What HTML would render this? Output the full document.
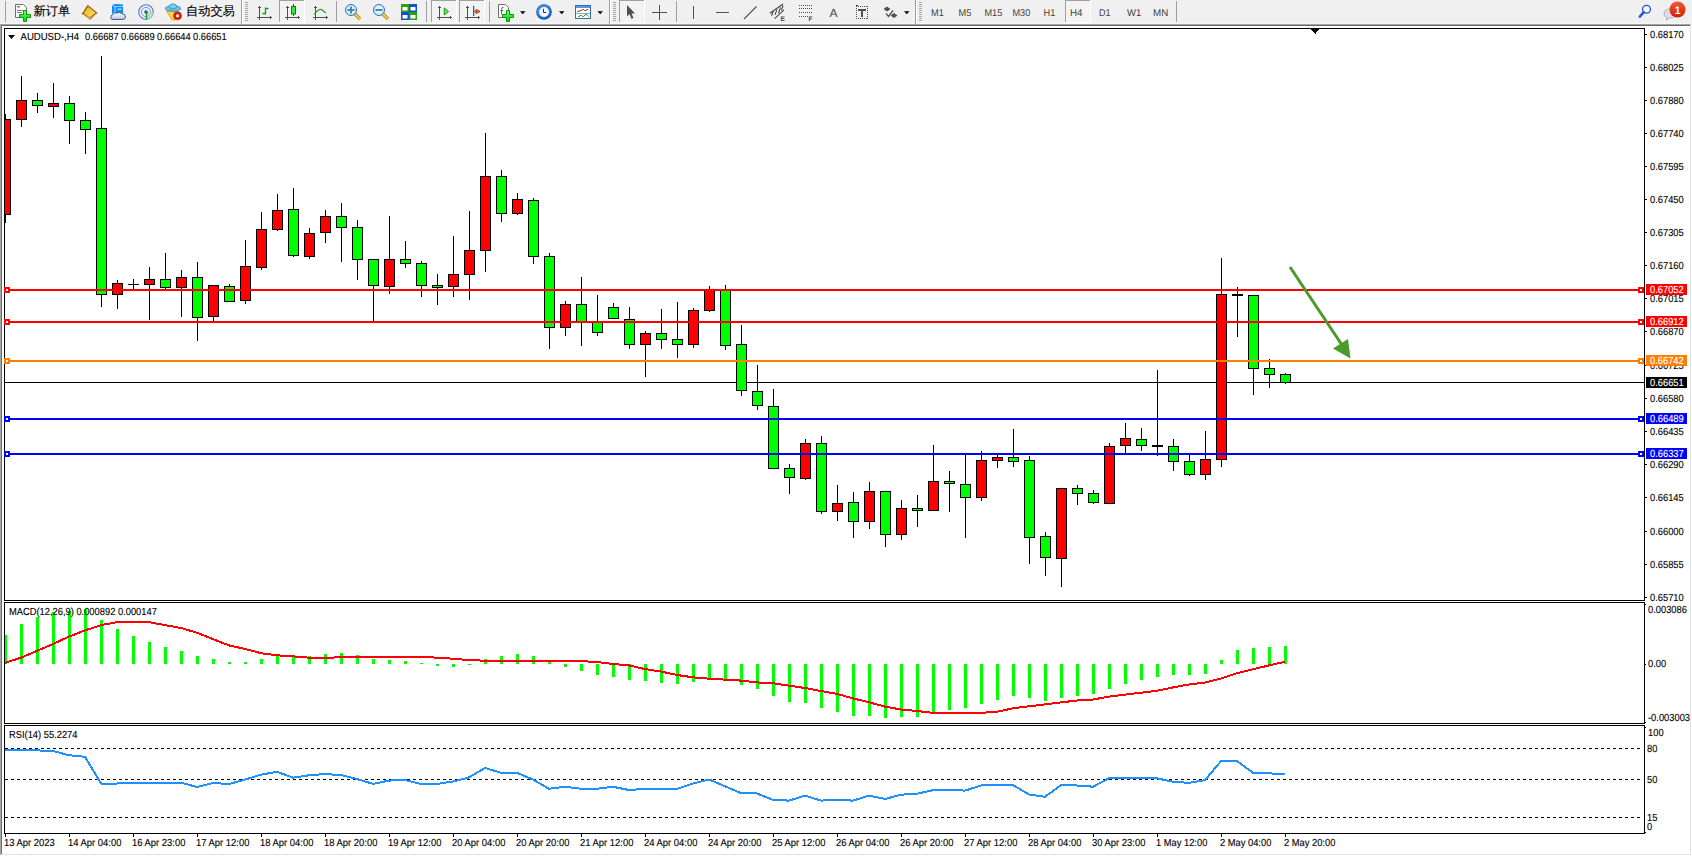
<!DOCTYPE html><html><head><meta charset="utf-8"><title>AUDUSD-,H4</title><style>
html,body{margin:0;padding:0;width:1692px;height:856px;overflow:hidden;background:#fff;}
svg{position:absolute;left:0;top:0;display:block;}
text{font-family:"Liberation Sans",sans-serif;text-rendering:geometricPrecision;}
</style></head><body>
<svg width="1692" height="856" viewBox="0 0 1692 856">
<rect x="0" y="0" width="1692" height="24" fill="#f0f0f0"/>
<rect x="0" y="24" width="1690" height="1" fill="#a3a3a3"/>
<rect x="1" y="25" width="1689" height="1" fill="#6b6b6b"/>
<rect x="1690" y="24" width="1" height="1" fill="#c8c8c8"/>
<rect x="0" y="24" width="1" height="831" fill="#a8a8a8"/>
<rect x="1" y="25" width="1" height="829" fill="#6b6b6b"/>
<rect x="1690" y="25" width="1" height="830" fill="#e2e2e2"/>
<rect x="2" y="854" width="1689" height="1" fill="#e2e2e2"/>
<defs><clipPath id="cm"><rect x="5" y="29" width="1639" height="571"/></clipPath><clipPath id="cd"><rect x="5" y="603" width="1639" height="120"/></clipPath><clipPath id="cr"><rect x="5" y="726" width="1639" height="107"/></clipPath></defs>
<g shape-rendering="crispEdges">
<rect x="4" y="28" width="1641" height="1" fill="#000"/>
<rect x="4" y="600" width="1641" height="1" fill="#000"/>
<rect x="4" y="28" width="1" height="573" fill="#000"/>
<rect x="1644" y="28" width="1" height="573" fill="#000"/>
<rect x="4" y="602" width="1641" height="1" fill="#000"/>
<rect x="4" y="723" width="1641" height="1" fill="#000"/>
<rect x="4" y="602" width="1" height="122" fill="#000"/>
<rect x="1644" y="602" width="1" height="122" fill="#000"/>
<rect x="4" y="725" width="1641" height="1" fill="#000"/>
<rect x="4" y="833" width="1641" height="1" fill="#000"/>
<rect x="4" y="725" width="1" height="109" fill="#000"/>
<rect x="1644" y="725" width="1" height="109" fill="#000"/>
<rect x="1310" y="28" width="10" height="1" fill="#000"/>
<rect x="1311" y="29" width="8" height="1" fill="#000"/>
<rect x="1312" y="30" width="6" height="1" fill="#000"/>
<rect x="1313" y="31" width="4" height="1" fill="#000"/>
<rect x="1314" y="32" width="2" height="1" fill="#000"/>
<rect x="1315" y="33" width="1" height="1" fill="#000"/>
<g clip-path="url(#cm)">
<rect x="5" y="382" width="1639" height="1" fill="#000"/>
<rect x="5" y="114" width="1" height="109" fill="#000"/>
<rect x="0" y="119" width="11" height="96" fill="#000"/>
<rect x="1" y="120" width="9" height="94" fill="#ff0000"/>
<rect x="21" y="76" width="1" height="51" fill="#000"/>
<rect x="16" y="100" width="11" height="20" fill="#000"/>
<rect x="17" y="101" width="9" height="18" fill="#ff0000"/>
<rect x="37" y="93" width="1" height="20" fill="#000"/>
<rect x="32" y="100" width="11" height="6" fill="#000"/>
<rect x="33" y="101" width="9" height="4" fill="#00ff00"/>
<rect x="53" y="83" width="1" height="35" fill="#000"/>
<rect x="48" y="103" width="11" height="4" fill="#000"/>
<rect x="49" y="104" width="9" height="2" fill="#ff0000"/>
<rect x="69" y="96" width="1" height="48" fill="#000"/>
<rect x="64" y="103" width="11" height="18" fill="#000"/>
<rect x="65" y="104" width="9" height="16" fill="#00ff00"/>
<rect x="85" y="112" width="1" height="42" fill="#000"/>
<rect x="80" y="120" width="11" height="10" fill="#000"/>
<rect x="81" y="121" width="9" height="8" fill="#00ff00"/>
<rect x="101" y="56" width="1" height="251" fill="#000"/>
<rect x="96" y="128" width="11" height="167" fill="#000"/>
<rect x="97" y="129" width="9" height="165" fill="#00ff00"/>
<rect x="117" y="280" width="1" height="29" fill="#000"/>
<rect x="112" y="283" width="11" height="12" fill="#000"/>
<rect x="113" y="284" width="9" height="10" fill="#ff0000"/>
<rect x="133" y="279" width="1" height="11" fill="#000"/>
<rect x="128" y="284" width="11" height="1" fill="#000"/>
<rect x="149" y="267" width="1" height="53" fill="#000"/>
<rect x="144" y="279" width="11" height="6" fill="#000"/>
<rect x="145" y="280" width="9" height="4" fill="#ff0000"/>
<rect x="165" y="253" width="1" height="36" fill="#000"/>
<rect x="160" y="279" width="11" height="9" fill="#000"/>
<rect x="161" y="280" width="9" height="7" fill="#00ff00"/>
<rect x="181" y="270" width="1" height="47" fill="#000"/>
<rect x="176" y="277" width="11" height="11" fill="#000"/>
<rect x="177" y="278" width="9" height="9" fill="#ff0000"/>
<rect x="197" y="262" width="1" height="79" fill="#000"/>
<rect x="192" y="277" width="11" height="41" fill="#000"/>
<rect x="193" y="278" width="9" height="39" fill="#00ff00"/>
<rect x="213" y="285" width="1" height="36" fill="#000"/>
<rect x="208" y="285" width="11" height="32" fill="#000"/>
<rect x="209" y="286" width="9" height="30" fill="#ff0000"/>
<rect x="229" y="284" width="1" height="18" fill="#000"/>
<rect x="224" y="286" width="11" height="16" fill="#000"/>
<rect x="225" y="287" width="9" height="14" fill="#00ff00"/>
<rect x="245" y="240" width="1" height="64" fill="#000"/>
<rect x="240" y="266" width="11" height="35" fill="#000"/>
<rect x="241" y="267" width="9" height="33" fill="#ff0000"/>
<rect x="261" y="212" width="1" height="58" fill="#000"/>
<rect x="256" y="229" width="11" height="39" fill="#000"/>
<rect x="257" y="230" width="9" height="37" fill="#ff0000"/>
<rect x="277" y="194" width="1" height="37" fill="#000"/>
<rect x="272" y="210" width="11" height="20" fill="#000"/>
<rect x="273" y="211" width="9" height="18" fill="#ff0000"/>
<rect x="293" y="188" width="1" height="69" fill="#000"/>
<rect x="288" y="209" width="11" height="47" fill="#000"/>
<rect x="289" y="210" width="9" height="45" fill="#00ff00"/>
<rect x="309" y="228" width="1" height="31" fill="#000"/>
<rect x="304" y="233" width="11" height="24" fill="#000"/>
<rect x="305" y="234" width="9" height="22" fill="#ff0000"/>
<rect x="325" y="210" width="1" height="33" fill="#000"/>
<rect x="320" y="216" width="11" height="17" fill="#000"/>
<rect x="321" y="217" width="9" height="15" fill="#ff0000"/>
<rect x="341" y="203" width="1" height="59" fill="#000"/>
<rect x="336" y="216" width="11" height="12" fill="#000"/>
<rect x="337" y="217" width="9" height="10" fill="#00ff00"/>
<rect x="357" y="220" width="1" height="60" fill="#000"/>
<rect x="352" y="227" width="11" height="33" fill="#000"/>
<rect x="353" y="228" width="9" height="31" fill="#00ff00"/>
<rect x="373" y="259" width="1" height="62" fill="#000"/>
<rect x="368" y="259" width="11" height="27" fill="#000"/>
<rect x="369" y="260" width="9" height="25" fill="#00ff00"/>
<rect x="389" y="216" width="1" height="78" fill="#000"/>
<rect x="384" y="259" width="11" height="28" fill="#000"/>
<rect x="385" y="260" width="9" height="26" fill="#ff0000"/>
<rect x="405" y="241" width="1" height="27" fill="#000"/>
<rect x="400" y="259" width="11" height="5" fill="#000"/>
<rect x="401" y="260" width="9" height="3" fill="#00ff00"/>
<rect x="421" y="261" width="1" height="36" fill="#000"/>
<rect x="416" y="263" width="11" height="23" fill="#000"/>
<rect x="417" y="264" width="9" height="21" fill="#00ff00"/>
<rect x="437" y="274" width="1" height="31" fill="#000"/>
<rect x="432" y="285" width="11" height="3" fill="#000"/>
<rect x="433" y="286" width="9" height="1" fill="#00ff00"/>
<rect x="453" y="236" width="1" height="61" fill="#000"/>
<rect x="448" y="274" width="11" height="13" fill="#000"/>
<rect x="449" y="275" width="9" height="11" fill="#ff0000"/>
<rect x="469" y="211" width="1" height="89" fill="#000"/>
<rect x="464" y="250" width="11" height="25" fill="#000"/>
<rect x="465" y="251" width="9" height="23" fill="#ff0000"/>
<rect x="485" y="133" width="1" height="139" fill="#000"/>
<rect x="480" y="176" width="11" height="75" fill="#000"/>
<rect x="481" y="177" width="9" height="73" fill="#ff0000"/>
<rect x="501" y="170" width="1" height="52" fill="#000"/>
<rect x="496" y="176" width="11" height="38" fill="#000"/>
<rect x="497" y="177" width="9" height="36" fill="#00ff00"/>
<rect x="517" y="193" width="1" height="22" fill="#000"/>
<rect x="512" y="199" width="11" height="15" fill="#000"/>
<rect x="513" y="200" width="9" height="13" fill="#ff0000"/>
<rect x="533" y="198" width="1" height="66" fill="#000"/>
<rect x="528" y="200" width="11" height="57" fill="#000"/>
<rect x="529" y="201" width="9" height="55" fill="#00ff00"/>
<rect x="549" y="253" width="1" height="96" fill="#000"/>
<rect x="544" y="256" width="11" height="72" fill="#000"/>
<rect x="545" y="257" width="9" height="70" fill="#00ff00"/>
<rect x="565" y="301" width="1" height="35" fill="#000"/>
<rect x="560" y="304" width="11" height="24" fill="#000"/>
<rect x="561" y="305" width="9" height="22" fill="#ff0000"/>
<rect x="581" y="277" width="1" height="69" fill="#000"/>
<rect x="576" y="304" width="11" height="18" fill="#000"/>
<rect x="577" y="305" width="9" height="16" fill="#00ff00"/>
<rect x="597" y="295" width="1" height="41" fill="#000"/>
<rect x="592" y="322" width="11" height="11" fill="#000"/>
<rect x="593" y="323" width="9" height="9" fill="#00ff00"/>
<rect x="613" y="303" width="1" height="16" fill="#000"/>
<rect x="608" y="307" width="11" height="12" fill="#000"/>
<rect x="609" y="308" width="9" height="10" fill="#00ff00"/>
<rect x="629" y="307" width="1" height="42" fill="#000"/>
<rect x="624" y="319" width="11" height="26" fill="#000"/>
<rect x="625" y="320" width="9" height="24" fill="#00ff00"/>
<rect x="645" y="331" width="1" height="46" fill="#000"/>
<rect x="640" y="333" width="11" height="12" fill="#000"/>
<rect x="641" y="334" width="9" height="10" fill="#ff0000"/>
<rect x="661" y="309" width="1" height="40" fill="#000"/>
<rect x="656" y="333" width="11" height="7" fill="#000"/>
<rect x="657" y="334" width="9" height="5" fill="#00ff00"/>
<rect x="677" y="302" width="1" height="56" fill="#000"/>
<rect x="672" y="339" width="11" height="6" fill="#000"/>
<rect x="673" y="340" width="9" height="4" fill="#00ff00"/>
<rect x="693" y="308" width="1" height="40" fill="#000"/>
<rect x="688" y="310" width="11" height="35" fill="#000"/>
<rect x="689" y="311" width="9" height="33" fill="#ff0000"/>
<rect x="709" y="286" width="1" height="26" fill="#000"/>
<rect x="704" y="290" width="11" height="21" fill="#000"/>
<rect x="705" y="291" width="9" height="19" fill="#ff0000"/>
<rect x="725" y="285" width="1" height="65" fill="#000"/>
<rect x="720" y="290" width="11" height="56" fill="#000"/>
<rect x="721" y="291" width="9" height="54" fill="#00ff00"/>
<rect x="741" y="325" width="1" height="71" fill="#000"/>
<rect x="736" y="344" width="11" height="47" fill="#000"/>
<rect x="737" y="345" width="9" height="45" fill="#00ff00"/>
<rect x="757" y="365" width="1" height="45" fill="#000"/>
<rect x="752" y="391" width="11" height="15" fill="#000"/>
<rect x="753" y="392" width="9" height="13" fill="#00ff00"/>
<rect x="773" y="389" width="1" height="80" fill="#000"/>
<rect x="768" y="406" width="11" height="63" fill="#000"/>
<rect x="769" y="407" width="9" height="61" fill="#00ff00"/>
<rect x="789" y="464" width="1" height="30" fill="#000"/>
<rect x="784" y="468" width="11" height="10" fill="#000"/>
<rect x="785" y="469" width="9" height="8" fill="#00ff00"/>
<rect x="805" y="439" width="1" height="41" fill="#000"/>
<rect x="800" y="443" width="11" height="36" fill="#000"/>
<rect x="801" y="444" width="9" height="34" fill="#ff0000"/>
<rect x="821" y="436" width="1" height="78" fill="#000"/>
<rect x="816" y="443" width="11" height="69" fill="#000"/>
<rect x="817" y="444" width="9" height="67" fill="#00ff00"/>
<rect x="837" y="485" width="1" height="36" fill="#000"/>
<rect x="832" y="503" width="11" height="9" fill="#000"/>
<rect x="833" y="504" width="9" height="7" fill="#ff0000"/>
<rect x="853" y="492" width="1" height="46" fill="#000"/>
<rect x="848" y="502" width="11" height="20" fill="#000"/>
<rect x="849" y="503" width="9" height="18" fill="#00ff00"/>
<rect x="869" y="482" width="1" height="47" fill="#000"/>
<rect x="864" y="491" width="11" height="31" fill="#000"/>
<rect x="865" y="492" width="9" height="29" fill="#ff0000"/>
<rect x="885" y="491" width="1" height="56" fill="#000"/>
<rect x="880" y="491" width="11" height="44" fill="#000"/>
<rect x="881" y="492" width="9" height="42" fill="#00ff00"/>
<rect x="901" y="500" width="1" height="40" fill="#000"/>
<rect x="896" y="508" width="11" height="27" fill="#000"/>
<rect x="897" y="509" width="9" height="25" fill="#ff0000"/>
<rect x="917" y="495" width="1" height="32" fill="#000"/>
<rect x="912" y="508" width="11" height="3" fill="#000"/>
<rect x="913" y="509" width="9" height="1" fill="#00ff00"/>
<rect x="933" y="445" width="1" height="66" fill="#000"/>
<rect x="928" y="481" width="11" height="30" fill="#000"/>
<rect x="929" y="482" width="9" height="28" fill="#ff0000"/>
<rect x="949" y="471" width="1" height="41" fill="#000"/>
<rect x="944" y="481" width="11" height="3" fill="#000"/>
<rect x="945" y="482" width="9" height="1" fill="#00ff00"/>
<rect x="965" y="455" width="1" height="83" fill="#000"/>
<rect x="960" y="484" width="11" height="14" fill="#000"/>
<rect x="961" y="485" width="9" height="12" fill="#00ff00"/>
<rect x="981" y="451" width="1" height="50" fill="#000"/>
<rect x="976" y="460" width="11" height="38" fill="#000"/>
<rect x="977" y="461" width="9" height="36" fill="#ff0000"/>
<rect x="997" y="455" width="1" height="13" fill="#000"/>
<rect x="992" y="457" width="11" height="4" fill="#000"/>
<rect x="993" y="458" width="9" height="2" fill="#ff0000"/>
<rect x="1013" y="429" width="1" height="38" fill="#000"/>
<rect x="1008" y="457" width="11" height="5" fill="#000"/>
<rect x="1009" y="458" width="9" height="3" fill="#00ff00"/>
<rect x="1029" y="456" width="1" height="108" fill="#000"/>
<rect x="1024" y="460" width="11" height="78" fill="#000"/>
<rect x="1025" y="461" width="9" height="76" fill="#00ff00"/>
<rect x="1045" y="532" width="1" height="44" fill="#000"/>
<rect x="1040" y="536" width="11" height="22" fill="#000"/>
<rect x="1041" y="537" width="9" height="20" fill="#00ff00"/>
<rect x="1061" y="488" width="1" height="99" fill="#000"/>
<rect x="1056" y="488" width="11" height="71" fill="#000"/>
<rect x="1057" y="489" width="9" height="69" fill="#ff0000"/>
<rect x="1077" y="485" width="1" height="20" fill="#000"/>
<rect x="1072" y="488" width="11" height="6" fill="#000"/>
<rect x="1073" y="489" width="9" height="4" fill="#00ff00"/>
<rect x="1093" y="490" width="1" height="14" fill="#000"/>
<rect x="1088" y="493" width="11" height="10" fill="#000"/>
<rect x="1089" y="494" width="9" height="8" fill="#00ff00"/>
<rect x="1109" y="443" width="1" height="61" fill="#000"/>
<rect x="1104" y="446" width="11" height="58" fill="#000"/>
<rect x="1105" y="447" width="9" height="56" fill="#ff0000"/>
<rect x="1125" y="423" width="1" height="30" fill="#000"/>
<rect x="1120" y="438" width="11" height="8" fill="#000"/>
<rect x="1121" y="439" width="9" height="6" fill="#ff0000"/>
<rect x="1141" y="428" width="1" height="23" fill="#000"/>
<rect x="1136" y="439" width="11" height="7" fill="#000"/>
<rect x="1137" y="440" width="9" height="5" fill="#00ff00"/>
<rect x="1157" y="370" width="1" height="86" fill="#000"/>
<rect x="1152" y="445" width="11" height="2" fill="#000"/>
<rect x="1173" y="439" width="1" height="32" fill="#000"/>
<rect x="1168" y="446" width="11" height="16" fill="#000"/>
<rect x="1169" y="447" width="9" height="14" fill="#00ff00"/>
<rect x="1189" y="454" width="1" height="22" fill="#000"/>
<rect x="1184" y="461" width="11" height="14" fill="#000"/>
<rect x="1185" y="462" width="9" height="12" fill="#00ff00"/>
<rect x="1205" y="431" width="1" height="49" fill="#000"/>
<rect x="1200" y="459" width="11" height="16" fill="#000"/>
<rect x="1201" y="460" width="9" height="14" fill="#ff0000"/>
<rect x="1221" y="258" width="1" height="209" fill="#000"/>
<rect x="1216" y="294" width="11" height="166" fill="#000"/>
<rect x="1217" y="295" width="9" height="164" fill="#ff0000"/>
<rect x="1237" y="287" width="1" height="50" fill="#000"/>
<rect x="1232" y="294" width="11" height="2" fill="#000"/>
<rect x="1253" y="295" width="1" height="100" fill="#000"/>
<rect x="1248" y="295" width="11" height="74" fill="#000"/>
<rect x="1249" y="296" width="9" height="72" fill="#00ff00"/>
<rect x="1269" y="359" width="1" height="29" fill="#000"/>
<rect x="1264" y="368" width="11" height="7" fill="#000"/>
<rect x="1265" y="369" width="9" height="5" fill="#00ff00"/>
<rect x="1285" y="373" width="1" height="11" fill="#000"/>
<rect x="1280" y="374" width="11" height="9" fill="#000"/>
<rect x="1281" y="375" width="9" height="7" fill="#00ff00"/>
<rect x="5" y="289" width="1639" height="2" fill="#ff0000"/>
<rect x="4" y="287" width="6" height="6" fill="#ff0000"/>
<rect x="6" y="289" width="2" height="2" fill="#fff"/>
<rect x="1638" y="287" width="6" height="6" fill="#ff0000"/>
<rect x="1640" y="289" width="2" height="2" fill="#fff"/>
<rect x="5" y="321" width="1639" height="2" fill="#ff0000"/>
<rect x="4" y="319" width="6" height="6" fill="#ff0000"/>
<rect x="6" y="321" width="2" height="2" fill="#fff"/>
<rect x="1638" y="319" width="6" height="6" fill="#ff0000"/>
<rect x="1640" y="321" width="2" height="2" fill="#fff"/>
<rect x="5" y="360" width="1639" height="2" fill="#ff8000"/>
<rect x="4" y="358" width="6" height="6" fill="#ff8000"/>
<rect x="6" y="360" width="2" height="2" fill="#fff"/>
<rect x="1638" y="358" width="6" height="6" fill="#ff8000"/>
<rect x="1640" y="360" width="2" height="2" fill="#fff"/>
<rect x="5" y="418" width="1639" height="2" fill="#0000ff"/>
<rect x="4" y="416" width="6" height="6" fill="#0000ff"/>
<rect x="6" y="418" width="2" height="2" fill="#fff"/>
<rect x="1638" y="416" width="6" height="6" fill="#0000ff"/>
<rect x="1640" y="418" width="2" height="2" fill="#fff"/>
<rect x="5" y="453" width="1639" height="2" fill="#0000ff"/>
<rect x="4" y="451" width="6" height="6" fill="#0000ff"/>
<rect x="6" y="453" width="2" height="2" fill="#fff"/>
<rect x="1638" y="451" width="6" height="6" fill="#0000ff"/>
<rect x="1640" y="453" width="2" height="2" fill="#fff"/>
</g>
<rect x="4" y="287" width="6" height="6" fill="#ff0000"/>
<rect x="6" y="289" width="2" height="2" fill="#fff"/>
<rect x="1638" y="287" width="6" height="6" fill="#ff0000"/>
<rect x="1640" y="289" width="2" height="2" fill="#fff"/>
<rect x="4" y="319" width="6" height="6" fill="#ff0000"/>
<rect x="6" y="321" width="2" height="2" fill="#fff"/>
<rect x="1638" y="319" width="6" height="6" fill="#ff0000"/>
<rect x="1640" y="321" width="2" height="2" fill="#fff"/>
<rect x="4" y="358" width="6" height="6" fill="#ff8000"/>
<rect x="6" y="360" width="2" height="2" fill="#fff"/>
<rect x="1638" y="358" width="6" height="6" fill="#ff8000"/>
<rect x="1640" y="360" width="2" height="2" fill="#fff"/>
<rect x="4" y="416" width="6" height="6" fill="#0000ff"/>
<rect x="6" y="418" width="2" height="2" fill="#fff"/>
<rect x="1638" y="416" width="6" height="6" fill="#0000ff"/>
<rect x="1640" y="418" width="2" height="2" fill="#fff"/>
<rect x="4" y="451" width="6" height="6" fill="#0000ff"/>
<rect x="6" y="453" width="2" height="2" fill="#fff"/>
<rect x="1638" y="451" width="6" height="6" fill="#0000ff"/>
<rect x="1640" y="453" width="2" height="2" fill="#fff"/>
<rect x="1645" y="34" width="2" height="1" fill="#000"/>
<rect x="1645" y="67" width="2" height="1" fill="#000"/>
<rect x="1645" y="100" width="2" height="1" fill="#000"/>
<rect x="1645" y="133" width="2" height="1" fill="#000"/>
<rect x="1645" y="166" width="2" height="1" fill="#000"/>
<rect x="1645" y="199" width="2" height="1" fill="#000"/>
<rect x="1645" y="232" width="2" height="1" fill="#000"/>
<rect x="1645" y="265" width="2" height="1" fill="#000"/>
<rect x="1645" y="298" width="2" height="1" fill="#000"/>
<rect x="1645" y="331" width="2" height="1" fill="#000"/>
<rect x="1645" y="365" width="2" height="1" fill="#000"/>
<rect x="1645" y="398" width="2" height="1" fill="#000"/>
<rect x="1645" y="431" width="2" height="1" fill="#000"/>
<rect x="1645" y="464" width="2" height="1" fill="#000"/>
<rect x="1645" y="497" width="2" height="1" fill="#000"/>
<rect x="1645" y="531" width="2" height="1" fill="#000"/>
<rect x="1645" y="564" width="2" height="1" fill="#000"/>
<rect x="1645" y="597" width="2" height="1" fill="#000"/>
<rect x="1645" y="604" width="1" height="1" fill="#000"/>
<rect x="1645" y="664" width="1" height="1" fill="#000"/>
<rect x="1645" y="722" width="1" height="1" fill="#000"/>
<rect x="1645" y="727" width="1" height="1" fill="#000"/>
<rect x="1645" y="832" width="1" height="1" fill="#000"/>
<rect x="5" y="834" width="1" height="3" fill="#000"/>
<rect x="69" y="834" width="1" height="3" fill="#000"/>
<rect x="133" y="834" width="1" height="3" fill="#000"/>
<rect x="197" y="834" width="1" height="3" fill="#000"/>
<rect x="261" y="834" width="1" height="3" fill="#000"/>
<rect x="325" y="834" width="1" height="3" fill="#000"/>
<rect x="389" y="834" width="1" height="3" fill="#000"/>
<rect x="453" y="834" width="1" height="3" fill="#000"/>
<rect x="517" y="834" width="1" height="3" fill="#000"/>
<rect x="581" y="834" width="1" height="3" fill="#000"/>
<rect x="645" y="834" width="1" height="3" fill="#000"/>
<rect x="709" y="834" width="1" height="3" fill="#000"/>
<rect x="773" y="834" width="1" height="3" fill="#000"/>
<rect x="837" y="834" width="1" height="3" fill="#000"/>
<rect x="901" y="834" width="1" height="3" fill="#000"/>
<rect x="965" y="834" width="1" height="3" fill="#000"/>
<rect x="1029" y="834" width="1" height="3" fill="#000"/>
<rect x="1093" y="834" width="1" height="3" fill="#000"/>
<rect x="1157" y="834" width="1" height="3" fill="#000"/>
<rect x="1221" y="834" width="1" height="3" fill="#000"/>
<rect x="1285" y="834" width="1" height="3" fill="#000"/>
<g clip-path="url(#cd)">
<rect x="4" y="635" width="3" height="29" fill="#00ff00"/>
<rect x="20" y="624" width="3" height="40" fill="#00ff00"/>
<rect x="36" y="617" width="3" height="47" fill="#00ff00"/>
<rect x="52" y="612" width="3" height="52" fill="#00ff00"/>
<rect x="68" y="611" width="3" height="53" fill="#00ff00"/>
<rect x="84" y="609" width="3" height="55" fill="#00ff00"/>
<rect x="100" y="620" width="3" height="44" fill="#00ff00"/>
<rect x="116" y="629" width="3" height="35" fill="#00ff00"/>
<rect x="132" y="636" width="3" height="28" fill="#00ff00"/>
<rect x="148" y="642" width="3" height="22" fill="#00ff00"/>
<rect x="164" y="647" width="3" height="17" fill="#00ff00"/>
<rect x="180" y="651" width="3" height="13" fill="#00ff00"/>
<rect x="196" y="656" width="3" height="8" fill="#00ff00"/>
<rect x="212" y="659" width="3" height="5" fill="#00ff00"/>
<rect x="228" y="662" width="3" height="2" fill="#00ff00"/>
<rect x="244" y="662" width="3" height="2" fill="#00ff00"/>
<rect x="260" y="659" width="3" height="5" fill="#00ff00"/>
<rect x="276" y="656" width="3" height="8" fill="#00ff00"/>
<rect x="292" y="657" width="3" height="7" fill="#00ff00"/>
<rect x="308" y="656" width="3" height="8" fill="#00ff00"/>
<rect x="324" y="654" width="3" height="10" fill="#00ff00"/>
<rect x="340" y="653" width="3" height="11" fill="#00ff00"/>
<rect x="356" y="655" width="3" height="9" fill="#00ff00"/>
<rect x="372" y="659" width="3" height="5" fill="#00ff00"/>
<rect x="388" y="660" width="3" height="4" fill="#00ff00"/>
<rect x="404" y="661" width="3" height="3" fill="#00ff00"/>
<rect x="420" y="663" width="3" height="1" fill="#00ff00"/>
<rect x="436" y="664" width="3" height="2" fill="#00ff00"/>
<rect x="452" y="664" width="3" height="3" fill="#00ff00"/>
<rect x="468" y="664" width="3" height="1" fill="#00ff00"/>
<rect x="484" y="659" width="3" height="5" fill="#00ff00"/>
<rect x="500" y="656" width="3" height="8" fill="#00ff00"/>
<rect x="516" y="654" width="3" height="10" fill="#00ff00"/>
<rect x="532" y="656" width="3" height="8" fill="#00ff00"/>
<rect x="548" y="662" width="3" height="2" fill="#00ff00"/>
<rect x="564" y="664" width="3" height="3" fill="#00ff00"/>
<rect x="580" y="664" width="3" height="7" fill="#00ff00"/>
<rect x="596" y="664" width="3" height="11" fill="#00ff00"/>
<rect x="612" y="664" width="3" height="13" fill="#00ff00"/>
<rect x="628" y="664" width="3" height="16" fill="#00ff00"/>
<rect x="644" y="664" width="3" height="17" fill="#00ff00"/>
<rect x="660" y="664" width="3" height="19" fill="#00ff00"/>
<rect x="676" y="664" width="3" height="20" fill="#00ff00"/>
<rect x="692" y="664" width="3" height="18" fill="#00ff00"/>
<rect x="708" y="664" width="3" height="15" fill="#00ff00"/>
<rect x="724" y="664" width="3" height="16" fill="#00ff00"/>
<rect x="740" y="664" width="3" height="21" fill="#00ff00"/>
<rect x="756" y="664" width="3" height="25" fill="#00ff00"/>
<rect x="772" y="664" width="3" height="32" fill="#00ff00"/>
<rect x="788" y="664" width="3" height="38" fill="#00ff00"/>
<rect x="804" y="664" width="3" height="39" fill="#00ff00"/>
<rect x="820" y="664" width="3" height="44" fill="#00ff00"/>
<rect x="836" y="664" width="3" height="48" fill="#00ff00"/>
<rect x="852" y="664" width="3" height="52" fill="#00ff00"/>
<rect x="868" y="664" width="3" height="52" fill="#00ff00"/>
<rect x="884" y="664" width="3" height="54" fill="#00ff00"/>
<rect x="900" y="664" width="3" height="53" fill="#00ff00"/>
<rect x="916" y="664" width="3" height="53" fill="#00ff00"/>
<rect x="932" y="664" width="3" height="48" fill="#00ff00"/>
<rect x="948" y="664" width="3" height="46" fill="#00ff00"/>
<rect x="964" y="664" width="3" height="44" fill="#00ff00"/>
<rect x="980" y="664" width="3" height="40" fill="#00ff00"/>
<rect x="996" y="664" width="3" height="36" fill="#00ff00"/>
<rect x="1012" y="664" width="3" height="32" fill="#00ff00"/>
<rect x="1028" y="664" width="3" height="34" fill="#00ff00"/>
<rect x="1044" y="664" width="3" height="37" fill="#00ff00"/>
<rect x="1060" y="664" width="3" height="34" fill="#00ff00"/>
<rect x="1076" y="664" width="3" height="32" fill="#00ff00"/>
<rect x="1092" y="664" width="3" height="30" fill="#00ff00"/>
<rect x="1108" y="664" width="3" height="25" fill="#00ff00"/>
<rect x="1124" y="664" width="3" height="20" fill="#00ff00"/>
<rect x="1140" y="664" width="3" height="16" fill="#00ff00"/>
<rect x="1156" y="664" width="3" height="13" fill="#00ff00"/>
<rect x="1172" y="664" width="3" height="11" fill="#00ff00"/>
<rect x="1188" y="664" width="3" height="11" fill="#00ff00"/>
<rect x="1204" y="664" width="3" height="10" fill="#00ff00"/>
<rect x="1220" y="660" width="3" height="4" fill="#00ff00"/>
<rect x="1236" y="650" width="3" height="14" fill="#00ff00"/>
<rect x="1252" y="648" width="3" height="16" fill="#00ff00"/>
<rect x="1268" y="647" width="3" height="17" fill="#00ff00"/>
<rect x="1284" y="646" width="3" height="18" fill="#00ff00"/>
</g>
<line x1="5" y1="748.5" x2="1642" y2="748.5" stroke="#000" stroke-width="1" stroke-dasharray="3,3"/>
<line x1="5" y1="779.5" x2="1642" y2="779.5" stroke="#000" stroke-width="1" stroke-dasharray="3,3"/>
<line x1="5" y1="817.5" x2="1642" y2="817.5" stroke="#000" stroke-width="1" stroke-dasharray="3,3"/>
</g>
<g clip-path="url(#cd)"><polyline points="5,662.9 21,657.7 37,650.8 53,644 69,636.6 85,630.4 101,625.1 117,622.2 133,621.8 149,622.2 165,625.1 181,628 197,632.7 213,639.1 229,645.4 245,648.9 261,653.2 277,655.3 293,656.3 309,657.7 325,657.9 341,657.2 357,656.8 373,656.8 389,656.8 405,656.8 421,656.8 437,657.7 453,658.7 469,660.1 485,660.7 501,660.7 517,660.7 533,660.7 549,660.7 565,660.7 581,661.1 597,662 613,664 629,665.4 645,669.1 661,671.5 677,675 693,677.3 709,678.7 725,679.6 741,680.6 757,682.4 773,683.2 789,685.7 805,688 821,691 837,693.9 853,698.4 869,702.3 885,706.6 901,709.5 917,711 933,712.8 949,712.8 965,712.8 981,712.8 997,711.8 1013,708.3 1029,706.3 1045,704.4 1061,702.4 1077,700.5 1093,699.5 1109,696.6 1125,694.6 1141,692.7 1157,690.7 1173,687.4 1189,684.5 1205,682.5 1221,678.6 1237,673.2 1253,669.3 1269,665.4 1285,661.8" fill="none" stroke="#ff0000" stroke-width="2" stroke-linejoin="round" shape-rendering="crispEdges"/></g>
<g clip-path="url(#cr)"><polyline points="5,750.4 21,750.4 37,750.4 53,751 69,755.2 85,756.8 101,783.5 117,783.5 133,782.7 149,782.7 165,782.7 181,782.7 197,787 213,783 229,784 245,779.6 261,774.7 277,771.8 293,777.7 309,775.3 325,774 341,775.1 357,779 373,783.9 389,780.6 405,780 421,783.9 437,783.9 453,781.5 469,777.4 485,767.9 501,772.8 517,772.8 533,779.6 549,788.8 565,786.8 581,788.8 597,788.8 613,786.8 629,790 645,788.9 661,788.9 677,788.9 693,783.4 709,779.5 725,786.3 741,793.2 757,793.5 773,800 789,800.6 805,795.7 821,800.6 837,800 853,800.6 869,795.7 885,799 901,794.7 917,793.7 933,790.2 949,789.8 965,790.6 981,785.5 997,785.1 1013,785.1 1029,794.5 1045,796.8 1061,785.1 1077,785.5 1093,786.7 1109,778.3 1125,778.3 1141,778.3 1157,778.3 1173,781.8 1189,782.8 1205,780.2 1221,761.1 1237,761.1 1253,772.8 1269,773.4 1285,774" fill="none" stroke="#1e90ff" stroke-width="2" stroke-linejoin="round" shape-rendering="crispEdges"/></g>
<line x1="1290" y1="267" x2="1342" y2="345" stroke="#4a9a2c" stroke-width="3"/>
<polygon points="1333,348.5 1348,339 1350.5,358.5" fill="#4a9a2c"/>
<polygon points="8,35 15,35 11.5,39" fill="#000"/>
<text x="20.5" y="40" font-size="10.2" fill="#000" stroke="#000" stroke-width="0.12" textLength="58.5" lengthAdjust="spacingAndGlyphs">AUDUSD-,H4</text>
<text x="85" y="40" font-size="10.2" fill="#000" stroke="#000" stroke-width="0.12" text-anchor="start" textLength="33.73" lengthAdjust="spacingAndGlyphs">0.66687</text>
<text x="121" y="40" font-size="10.2" fill="#000" stroke="#000" stroke-width="0.12" text-anchor="start" textLength="33.73" lengthAdjust="spacingAndGlyphs">0.66689</text>
<text x="157" y="40" font-size="10.2" fill="#000" stroke="#000" stroke-width="0.12" text-anchor="start" textLength="33.73" lengthAdjust="spacingAndGlyphs">0.66644</text>
<text x="193" y="40" font-size="10.2" fill="#000" stroke="#000" stroke-width="0.12" text-anchor="start" textLength="33.73" lengthAdjust="spacingAndGlyphs">0.66651</text>
<text x="9" y="615" font-size="10.2" fill="#000" stroke="#000" stroke-width="0.12" text-anchor="start" textLength="147.83" lengthAdjust="spacingAndGlyphs">MACD(12,26,9) 0.000892 0.000147</text>
<text x="9" y="738" font-size="10.2" fill="#000" stroke="#000" stroke-width="0.12" text-anchor="start" textLength="68.46" lengthAdjust="spacingAndGlyphs">RSI(14) 55.2274</text>
<text x="1650" y="38" font-size="10.2" fill="#000" stroke="#000" stroke-width="0.12" text-anchor="start" textLength="33.73" lengthAdjust="spacingAndGlyphs">0.68170</text>
<text x="1650" y="71" font-size="10.2" fill="#000" stroke="#000" stroke-width="0.12" text-anchor="start" textLength="33.73" lengthAdjust="spacingAndGlyphs">0.68025</text>
<text x="1650" y="104" font-size="10.2" fill="#000" stroke="#000" stroke-width="0.12" text-anchor="start" textLength="33.73" lengthAdjust="spacingAndGlyphs">0.67880</text>
<text x="1650" y="137" font-size="10.2" fill="#000" stroke="#000" stroke-width="0.12" text-anchor="start" textLength="33.73" lengthAdjust="spacingAndGlyphs">0.67740</text>
<text x="1650" y="170" font-size="10.2" fill="#000" stroke="#000" stroke-width="0.12" text-anchor="start" textLength="33.73" lengthAdjust="spacingAndGlyphs">0.67595</text>
<text x="1650" y="203" font-size="10.2" fill="#000" stroke="#000" stroke-width="0.12" text-anchor="start" textLength="33.73" lengthAdjust="spacingAndGlyphs">0.67450</text>
<text x="1650" y="236" font-size="10.2" fill="#000" stroke="#000" stroke-width="0.12" text-anchor="start" textLength="33.73" lengthAdjust="spacingAndGlyphs">0.67305</text>
<text x="1650" y="269" font-size="10.2" fill="#000" stroke="#000" stroke-width="0.12" text-anchor="start" textLength="33.73" lengthAdjust="spacingAndGlyphs">0.67160</text>
<text x="1650" y="302" font-size="10.2" fill="#000" stroke="#000" stroke-width="0.12" text-anchor="start" textLength="33.73" lengthAdjust="spacingAndGlyphs">0.67015</text>
<text x="1650" y="335" font-size="10.2" fill="#000" stroke="#000" stroke-width="0.12" text-anchor="start" textLength="33.73" lengthAdjust="spacingAndGlyphs">0.66870</text>
<text x="1650" y="369" font-size="10.2" fill="#000" stroke="#000" stroke-width="0.12" text-anchor="start" textLength="33.73" lengthAdjust="spacingAndGlyphs">0.66725</text>
<text x="1650" y="402" font-size="10.2" fill="#000" stroke="#000" stroke-width="0.12" text-anchor="start" textLength="33.73" lengthAdjust="spacingAndGlyphs">0.66580</text>
<text x="1650" y="435" font-size="10.2" fill="#000" stroke="#000" stroke-width="0.12" text-anchor="start" textLength="33.73" lengthAdjust="spacingAndGlyphs">0.66435</text>
<text x="1650" y="468" font-size="10.2" fill="#000" stroke="#000" stroke-width="0.12" text-anchor="start" textLength="33.73" lengthAdjust="spacingAndGlyphs">0.66290</text>
<text x="1650" y="501" font-size="10.2" fill="#000" stroke="#000" stroke-width="0.12" text-anchor="start" textLength="33.73" lengthAdjust="spacingAndGlyphs">0.66145</text>
<text x="1650" y="535" font-size="10.2" fill="#000" stroke="#000" stroke-width="0.12" text-anchor="start" textLength="33.73" lengthAdjust="spacingAndGlyphs">0.66000</text>
<text x="1650" y="568" font-size="10.2" fill="#000" stroke="#000" stroke-width="0.12" text-anchor="start" textLength="33.73" lengthAdjust="spacingAndGlyphs">0.65855</text>
<text x="1650" y="601" font-size="10.2" fill="#000" stroke="#000" stroke-width="0.12" text-anchor="start" textLength="33.73" lengthAdjust="spacingAndGlyphs">0.65710</text>
<rect x="1646" y="284" width="41" height="11" fill="#ff0000"/>
<text x="1650" y="293" font-size="10.2" fill="#fff" stroke="#fff" stroke-width="0.12" text-anchor="start" textLength="33.73" lengthAdjust="spacingAndGlyphs">0.67052</text>
<rect x="1646" y="316" width="41" height="11" fill="#ff0000"/>
<text x="1650" y="325" font-size="10.2" fill="#fff" stroke="#fff" stroke-width="0.12" text-anchor="start" textLength="33.73" lengthAdjust="spacingAndGlyphs">0.66912</text>
<rect x="1646" y="355" width="41" height="11" fill="#ff8000"/>
<text x="1650" y="364" font-size="10.2" fill="#fff" stroke="#fff" stroke-width="0.12" text-anchor="start" textLength="33.73" lengthAdjust="spacingAndGlyphs">0.66742</text>
<rect x="1646" y="413" width="41" height="11" fill="#0000ff"/>
<text x="1650" y="422" font-size="10.2" fill="#fff" stroke="#fff" stroke-width="0.12" text-anchor="start" textLength="33.73" lengthAdjust="spacingAndGlyphs">0.66489</text>
<rect x="1646" y="448" width="41" height="11" fill="#0000ff"/>
<text x="1650" y="457" font-size="10.2" fill="#fff" stroke="#fff" stroke-width="0.12" text-anchor="start" textLength="33.73" lengthAdjust="spacingAndGlyphs">0.66337</text>
<rect x="1646" y="377" width="41" height="11" fill="#000"/>
<text x="1650" y="386" font-size="10.2" fill="#fff" stroke="#fff" stroke-width="0.12" text-anchor="start" textLength="33.73" lengthAdjust="spacingAndGlyphs">0.66651</text>
<text x="1648" y="613" font-size="10.2" fill="#000" stroke="#000" stroke-width="0.12" text-anchor="start" textLength="38.91" lengthAdjust="spacingAndGlyphs">0.003086</text>
<text x="1648" y="667.2" font-size="10.2" fill="#000" stroke="#000" stroke-width="0.12" text-anchor="start" textLength="18.16" lengthAdjust="spacingAndGlyphs">0.00</text>
<text x="1648" y="721" font-size="10.2" fill="#000" stroke="#000" stroke-width="0.12" text-anchor="start" textLength="42.02" lengthAdjust="spacingAndGlyphs">-0.003003</text>
<text x="1648" y="736" font-size="10.2" fill="#000" stroke="#000" stroke-width="0.12" text-anchor="start" textLength="15.57" lengthAdjust="spacingAndGlyphs">100</text>
<text x="1647" y="752" font-size="10.2" fill="#000" stroke="#000" stroke-width="0.12" text-anchor="start" textLength="10.38" lengthAdjust="spacingAndGlyphs">80</text>
<text x="1647" y="783" font-size="10.2" fill="#000" stroke="#000" stroke-width="0.12" text-anchor="start" textLength="10.38" lengthAdjust="spacingAndGlyphs">50</text>
<text x="1647" y="821" font-size="10.2" fill="#000" stroke="#000" stroke-width="0.12" text-anchor="start" textLength="10.38" lengthAdjust="spacingAndGlyphs">15</text>
<text x="1647" y="830" font-size="10.2" fill="#000" stroke="#000" stroke-width="0.12" text-anchor="start" textLength="5.19" lengthAdjust="spacingAndGlyphs">0</text>
<text x="4" y="846" font-size="10.2" fill="#000" stroke="#000" stroke-width="0.12" text-anchor="start" textLength="50.84" lengthAdjust="spacingAndGlyphs">13 Apr 2023</text>
<text x="68" y="846" font-size="10.2" fill="#000" stroke="#000" stroke-width="0.12" text-anchor="start" textLength="53.43" lengthAdjust="spacingAndGlyphs">14 Apr 04:00</text>
<text x="132" y="846" font-size="10.2" fill="#000" stroke="#000" stroke-width="0.12" text-anchor="start" textLength="53.43" lengthAdjust="spacingAndGlyphs">16 Apr 23:00</text>
<text x="196" y="846" font-size="10.2" fill="#000" stroke="#000" stroke-width="0.12" text-anchor="start" textLength="53.43" lengthAdjust="spacingAndGlyphs">17 Apr 12:00</text>
<text x="260" y="846" font-size="10.2" fill="#000" stroke="#000" stroke-width="0.12" text-anchor="start" textLength="53.43" lengthAdjust="spacingAndGlyphs">18 Apr 04:00</text>
<text x="324" y="846" font-size="10.2" fill="#000" stroke="#000" stroke-width="0.12" text-anchor="start" textLength="53.43" lengthAdjust="spacingAndGlyphs">18 Apr 20:00</text>
<text x="388" y="846" font-size="10.2" fill="#000" stroke="#000" stroke-width="0.12" text-anchor="start" textLength="53.43" lengthAdjust="spacingAndGlyphs">19 Apr 12:00</text>
<text x="452" y="846" font-size="10.2" fill="#000" stroke="#000" stroke-width="0.12" text-anchor="start" textLength="53.43" lengthAdjust="spacingAndGlyphs">20 Apr 04:00</text>
<text x="516" y="846" font-size="10.2" fill="#000" stroke="#000" stroke-width="0.12" text-anchor="start" textLength="53.43" lengthAdjust="spacingAndGlyphs">20 Apr 20:00</text>
<text x="580" y="846" font-size="10.2" fill="#000" stroke="#000" stroke-width="0.12" text-anchor="start" textLength="53.43" lengthAdjust="spacingAndGlyphs">21 Apr 12:00</text>
<text x="644" y="846" font-size="10.2" fill="#000" stroke="#000" stroke-width="0.12" text-anchor="start" textLength="53.43" lengthAdjust="spacingAndGlyphs">24 Apr 04:00</text>
<text x="708" y="846" font-size="10.2" fill="#000" stroke="#000" stroke-width="0.12" text-anchor="start" textLength="53.43" lengthAdjust="spacingAndGlyphs">24 Apr 20:00</text>
<text x="772" y="846" font-size="10.2" fill="#000" stroke="#000" stroke-width="0.12" text-anchor="start" textLength="53.43" lengthAdjust="spacingAndGlyphs">25 Apr 12:00</text>
<text x="836" y="846" font-size="10.2" fill="#000" stroke="#000" stroke-width="0.12" text-anchor="start" textLength="53.43" lengthAdjust="spacingAndGlyphs">26 Apr 04:00</text>
<text x="900" y="846" font-size="10.2" fill="#000" stroke="#000" stroke-width="0.12" text-anchor="start" textLength="53.43" lengthAdjust="spacingAndGlyphs">26 Apr 20:00</text>
<text x="964" y="846" font-size="10.2" fill="#000" stroke="#000" stroke-width="0.12" text-anchor="start" textLength="53.43" lengthAdjust="spacingAndGlyphs">27 Apr 12:00</text>
<text x="1028" y="846" font-size="10.2" fill="#000" stroke="#000" stroke-width="0.12" text-anchor="start" textLength="53.43" lengthAdjust="spacingAndGlyphs">28 Apr 04:00</text>
<text x="1092" y="846" font-size="10.2" fill="#000" stroke="#000" stroke-width="0.12" text-anchor="start" textLength="53.43" lengthAdjust="spacingAndGlyphs">30 Apr 23:00</text>
<text x="1156" y="846" font-size="10.2" fill="#000" stroke="#000" stroke-width="0.12" text-anchor="start" textLength="51.35" lengthAdjust="spacingAndGlyphs">1 May 12:00</text>
<text x="1220" y="846" font-size="10.2" fill="#000" stroke="#000" stroke-width="0.12" text-anchor="start" textLength="51.35" lengthAdjust="spacingAndGlyphs">2 May 04:00</text>
<text x="1284" y="846" font-size="10.2" fill="#000" stroke="#000" stroke-width="0.12" text-anchor="start" textLength="51.35" lengthAdjust="spacingAndGlyphs">2 May 20:00</text>
<defs><pattern id="dith" width="2" height="2" patternUnits="userSpaceOnUse"><rect width="2" height="2" fill="#fafafa"/><rect width="1" height="1" fill="#ececec"/><rect x="1" y="1" width="1" height="1" fill="#ececec"/></pattern><linearGradient id="gplus" x1="0" y1="0" x2="0" y2="1"><stop offset="0" stop-color="#7dfa7d"/><stop offset="1" stop-color="#00d000"/></linearGradient><linearGradient id="gbook" x1="0" y1="0" x2="1" y2="1"><stop offset="0" stop-color="#e8b810"/><stop offset="0.6" stop-color="#f4d040"/><stop offset="1" stop-color="#fff4b0"/></linearGradient><linearGradient id="gbadge" x1="0" y1="0" x2="0" y2="1"><stop offset="0" stop-color="#ee5a3a"/><stop offset="1" stop-color="#d41e00"/></linearGradient><linearGradient id="gcloud" x1="0" y1="0" x2="0" y2="1"><stop offset="0" stop-color="#ffffff"/><stop offset="1" stop-color="#b8c4dc"/></linearGradient><radialGradient id="glens"><stop offset="0" stop-color="#f4fcff"/><stop offset="1" stop-color="#c8e8fa"/></radialGradient></defs>
<g shape-rendering="crispEdges">
<rect x="0" y="23" width="1690" height="1" fill="#f6f6f6"/>
<rect x="5" y="1" width="1" height="21" fill="#a0a0a0"/>
<rect x="241" y="0" width="1" height="24" fill="#a0a0a0"/>
<rect x="242" y="0" width="1" height="24" fill="#ffffff"/>
<rect x="245" y="2" width="3" height="1" fill="#a8a8a8"/>
<rect x="245" y="4" width="3" height="1" fill="#a8a8a8"/>
<rect x="245" y="6" width="3" height="1" fill="#a8a8a8"/>
<rect x="245" y="8" width="3" height="1" fill="#a8a8a8"/>
<rect x="245" y="10" width="3" height="1" fill="#a8a8a8"/>
<rect x="245" y="12" width="3" height="1" fill="#a8a8a8"/>
<rect x="245" y="14" width="3" height="1" fill="#a8a8a8"/>
<rect x="245" y="16" width="3" height="1" fill="#a8a8a8"/>
<rect x="245" y="18" width="3" height="1" fill="#a8a8a8"/>
<rect x="245" y="20" width="3" height="1" fill="#a8a8a8"/>
<rect x="279" y="0" width="25" height="1" fill="#a0a0a0"/>
<rect x="279" y="0" width="1" height="22" fill="#a0a0a0"/>
<rect x="280" y="1" width="24" height="21" fill="url(#dith)"/>
<rect x="279" y="22" width="26" height="1" fill="#ffffff"/>
<rect x="304" y="0" width="1" height="23" fill="#ffffff"/>
<rect x="336" y="1" width="1" height="21" fill="#a0a0a0"/>
<rect x="426" y="1" width="1" height="21" fill="#a0a0a0"/>
<rect x="431" y="0" width="25" height="1" fill="#a0a0a0"/>
<rect x="431" y="0" width="1" height="22" fill="#a0a0a0"/>
<rect x="432" y="1" width="24" height="21" fill="url(#dith)"/>
<rect x="431" y="22" width="26" height="1" fill="#ffffff"/>
<rect x="456" y="0" width="1" height="23" fill="#ffffff"/>
<rect x="459" y="0" width="25" height="1" fill="#a0a0a0"/>
<rect x="459" y="0" width="1" height="22" fill="#a0a0a0"/>
<rect x="460" y="1" width="24" height="21" fill="url(#dith)"/>
<rect x="459" y="22" width="26" height="1" fill="#ffffff"/>
<rect x="484" y="0" width="1" height="23" fill="#ffffff"/>
<rect x="489" y="1" width="1" height="21" fill="#a0a0a0"/>
<rect x="609" y="0" width="1" height="24" fill="#a0a0a0"/>
<rect x="610" y="0" width="1" height="24" fill="#ffffff"/>
<rect x="613" y="2" width="3" height="1" fill="#a8a8a8"/>
<rect x="613" y="4" width="3" height="1" fill="#a8a8a8"/>
<rect x="613" y="6" width="3" height="1" fill="#a8a8a8"/>
<rect x="613" y="8" width="3" height="1" fill="#a8a8a8"/>
<rect x="613" y="10" width="3" height="1" fill="#a8a8a8"/>
<rect x="613" y="12" width="3" height="1" fill="#a8a8a8"/>
<rect x="613" y="14" width="3" height="1" fill="#a8a8a8"/>
<rect x="613" y="16" width="3" height="1" fill="#a8a8a8"/>
<rect x="613" y="18" width="3" height="1" fill="#a8a8a8"/>
<rect x="613" y="20" width="3" height="1" fill="#a8a8a8"/>
<rect x="619" y="0" width="25" height="1" fill="#a0a0a0"/>
<rect x="619" y="0" width="1" height="22" fill="#a0a0a0"/>
<rect x="620" y="1" width="24" height="21" fill="url(#dith)"/>
<rect x="619" y="22" width="26" height="1" fill="#ffffff"/>
<rect x="644" y="0" width="1" height="23" fill="#ffffff"/>
<rect x="676" y="1" width="1" height="21" fill="#a0a0a0"/>
<rect x="915" y="0" width="1" height="24" fill="#a0a0a0"/>
<rect x="916" y="0" width="1" height="24" fill="#ffffff"/>
<rect x="919" y="2" width="3" height="1" fill="#a8a8a8"/>
<rect x="919" y="4" width="3" height="1" fill="#a8a8a8"/>
<rect x="919" y="6" width="3" height="1" fill="#a8a8a8"/>
<rect x="919" y="8" width="3" height="1" fill="#a8a8a8"/>
<rect x="919" y="10" width="3" height="1" fill="#a8a8a8"/>
<rect x="919" y="12" width="3" height="1" fill="#a8a8a8"/>
<rect x="919" y="14" width="3" height="1" fill="#a8a8a8"/>
<rect x="919" y="16" width="3" height="1" fill="#a8a8a8"/>
<rect x="919" y="18" width="3" height="1" fill="#a8a8a8"/>
<rect x="919" y="20" width="3" height="1" fill="#a8a8a8"/>
<rect x="1065" y="0" width="25" height="1" fill="#a0a0a0"/>
<rect x="1065" y="0" width="1" height="22" fill="#a0a0a0"/>
<rect x="1066" y="1" width="24" height="21" fill="url(#dith)"/>
<rect x="1065" y="22" width="26" height="1" fill="#ffffff"/>
<rect x="1090" y="0" width="1" height="23" fill="#ffffff"/>
<rect x="1176" y="1" width="1" height="21" fill="#a0a0a0"/>
<rect x="259" y="6" width="1" height="14" fill="#505050"/>
<rect x="258" y="7" width="3" height="1" fill="#505050"/>
<rect x="257" y="17" width="15" height="1" fill="#505050"/>
<rect x="270" y="16" width="1" height="3" fill="#505050"/>
<rect x="287" y="6" width="1" height="14" fill="#505050"/>
<rect x="286" y="7" width="3" height="1" fill="#505050"/>
<rect x="285" y="17" width="15" height="1" fill="#505050"/>
<rect x="298" y="16" width="1" height="3" fill="#505050"/>
<rect x="315" y="6" width="1" height="14" fill="#505050"/>
<rect x="314" y="7" width="3" height="1" fill="#505050"/>
<rect x="313" y="17" width="15" height="1" fill="#505050"/>
<rect x="326" y="16" width="1" height="3" fill="#505050"/>
<rect x="439" y="6" width="1" height="14" fill="#505050"/>
<rect x="438" y="7" width="3" height="1" fill="#505050"/>
<rect x="437" y="17" width="15" height="1" fill="#505050"/>
<rect x="450" y="16" width="1" height="3" fill="#505050"/>
<rect x="467" y="6" width="1" height="14" fill="#505050"/>
<rect x="466" y="7" width="3" height="1" fill="#505050"/>
<rect x="465" y="17" width="15" height="1" fill="#505050"/>
<rect x="478" y="16" width="1" height="3" fill="#505050"/>
</g>
<path d="M265.5 7.5V14.5M265.5 13.5h-3M265.5 8.5h3" stroke="#10a010" stroke-width="1.3" fill="none"/>
<rect x="293" y="4" width="1" height="12" fill="#008800"/>
<rect x="291.5" y="6.5" width="4" height="7.5" fill="#40e040" stroke="#008800" stroke-width="1"/>
<path d="M314 14.5 Q 316.5 11, 319.5 9.5 Q 321.5 9, 324 11.5 L 326 13" stroke="#22a022" stroke-width="1.2" fill="none"/>
<polygon points="444.3,8 448.5,11.5 444.3,15" fill="#60f060" stroke="#00a000" stroke-width="1"/>
<rect x="473" y="6" width="1.3" height="10" fill="#1a6aa0"/>
<polygon points="474.5,11.5 477,9 477,10.8 479.5,10.8 479.5,12.2 477,12.2 477,14" fill="#f06010" stroke="#902000" stroke-width="0.6"/>
<path d="M15.5 4.5h8l3 3v10h-11z" fill="#fff" stroke="#707070" stroke-width="1"/>
<rect x="17" y="6" width="3" height="1.5" fill="#808080"/><rect x="17" y="10" width="6" height="1" fill="#808080"/><rect x="17" y="12" width="5" height="1" fill="#808080"/>
<path d="M23.5 10.5h3v4h4v3h-4v4h-3v-4h-4v-3h4z" fill="url(#gplus)" stroke="#00a000" stroke-width="1"/>
<path d="M87.8 5 L97.6 13 L90.2 20 L81.6 13.8 Q84.4 11 85.4 8 Z" fill="#94560a"/>
<path d="M88.2 6.7 L95.4 12.6 L89.8 17.6 L83.6 13.2 Q85.8 10.8 86.6 8.4 Z" fill="url(#gbook)"/>
<path d="M83.2 14.6 L90.2 19 L96.4 13.4" fill="none" stroke="#f0dca0" stroke-width="1"/>
<path d="M112 5 L115 4 L123 4.5 L123 13.5 L112 13.5 Z" fill="#0d8cf0"/>
<path d="M112 5 L115 6.5 L123 6.5" stroke="#b8e0ff" stroke-width="0.8" fill="none"/>
<path d="M115 6.5 V13" stroke="#e0f0ff" stroke-width="0.8"/>
<path d="M117.5 9.2h4" stroke="#ffffff" stroke-width="1"/>
<path d="M111 18.5 Q110 15 113 14.5 Q114 12 117 13 Q119 11.5 121.5 13.5 Q125.5 13.5 125.5 17 Q125.5 19.5 122 19.5 H113 Q111 19.5 111 18.5 Z" fill="url(#gcloud)" stroke="#3c5c98" stroke-width="1"/>
<circle cx="146" cy="12" r="7.3" fill="none" stroke="#4a78d8" stroke-width="1.1"/>
<circle cx="146" cy="12" r="4.6" fill="none" stroke="#6e94e0" stroke-width="1"/>
<path d="M146 12 L146 19.5 A7.5 7.5 0 0 0 153.5 12 Z" fill="#b4dcb0" opacity="0.8"/>
<circle cx="146" cy="12" r="1.8" fill="#2050d0"/>
<path d="M146.5 12.5 V19.5" stroke="#10a010" stroke-width="1.3"/>
<path d="M166.5 11 L178 11 L175 20 L172 20 Z" fill="#f8d840" stroke="#c8a010" stroke-width="0.8"/>
<ellipse cx="173" cy="8.5" rx="7.8" ry="2.8" fill="#70c0ec" stroke="#2a88b8" stroke-width="0.8"/>
<ellipse cx="173" cy="6.5" rx="3.6" ry="2.6" fill="#80c8f0" stroke="#2a88b8" stroke-width="0.8"/>
<circle cx="177.5" cy="15.8" r="4" fill="#e02000" stroke="#b01000" stroke-width="0.6"/>
<rect x="176.2" y="14.5" width="2.6" height="2.6" fill="#fff"/>
<path d="M354.5 13.5 L360 19" stroke="#b08010" stroke-width="3.2" stroke-linecap="butt"/>
<path d="M354.5 13.5 L360 19" stroke="#f4dc50" stroke-width="1.6"/>
<circle cx="351" cy="10" r="5.5" fill="url(#glens)" stroke="#2a72c0" stroke-width="1"/>
<rect x="347.5" y="9" width="7" height="2" fill="#4a88b0"/>
<rect x="350" y="6.5" width="2" height="7" fill="#4a88b0"/>
<path d="M382.5 13.5 L388 19" stroke="#b08010" stroke-width="3.2" stroke-linecap="butt"/>
<path d="M382.5 13.5 L388 19" stroke="#f4dc50" stroke-width="1.6"/>
<circle cx="379" cy="10" r="5.5" fill="url(#glens)" stroke="#2a72c0" stroke-width="1"/>
<rect x="375.5" y="9" width="7" height="2" fill="#4a88b0"/>
<rect x="401" y="4" width="8" height="8" fill="#2ea012"/>
<rect x="402.5" y="7" width="5" height="3.5" rx="0.6" fill="#fff"/>
<rect x="409" y="4" width="8" height="8" fill="#1452cc"/>
<rect x="410.5" y="7" width="5" height="3.5" rx="0.6" fill="#fff"/>
<rect x="401" y="12" width="8" height="8" fill="#1452cc"/>
<rect x="402.5" y="15" width="5" height="3.5" rx="0.6" fill="#fff"/>
<rect x="409" y="12" width="8" height="8" fill="#2ea012"/>
<rect x="410.5" y="15" width="5" height="3.5" rx="0.6" fill="#fff"/>
<path d="M498.5 4.5h7l3 3v10h-10z" fill="#fff" stroke="#707070" stroke-width="1"/>
<path d="M503.5 7.2 Q501.6 7 501.6 9.5 V14.5 M500.6 10.5h2.4" stroke="#403828" stroke-width="0.8" fill="none"/>
<path d="M506.5 10.5h3v4h4v3h-4v4h-3v-4h-4v-3h4z" fill="url(#gplus)" stroke="#00a000" stroke-width="1"/>
<circle cx="544" cy="12" r="7.8" fill="#1858b8"/>
<circle cx="543.6" cy="11.2" r="6.6" fill="#3c8ae0"/>
<circle cx="544" cy="12" r="4.9" fill="#f4f8fc"/>
<path d="M543.5 8.8v3.7h2.6" stroke="#303030" stroke-width="1" fill="none"/>
<rect x="575.5" y="5.5" width="15" height="13" fill="#ffffff" stroke="#2e6eb8" stroke-width="1"/>
<rect x="576" y="6" width="14" height="2" fill="#5a96d8"/>
<rect x="576" y="13" width="14" height="1" fill="#8aaed8"/>
<path d="M577.2 11.4h1.6l1.4-0.9h1l1.3-0.9h1l1.2 0.9h1.2l1.3-0.9h1.2" stroke="#a02000" stroke-width="1" fill="none"/>
<path d="M578 16.4h1l1.4-0.9h1l1.2 0.9h1l1.3-1.3 1.2-1.1 1.3 1.2 1.3 1.2" stroke="#109010" stroke-width="1" fill="none"/>
<polygon points="520,11.2 525.5,11.2 522.75,14.2" fill="#000"/>
<polygon points="559,11.2 564.5,11.2 561.75,14.2" fill="#000"/>
<polygon points="597.5,11.2 603,11.2 600.25,14.2" fill="#000"/>
<polygon points="904,11.2 909.5,11.2 906.75,14.2" fill="#000"/>
<path d="M627 5 L627 16.5 L629.5 14 L631.5 19 L633.5 18 L631.5 13.5 L635 13.5 Z" fill="#505050"/>
<g shape-rendering="crispEdges"><rect x="652" y="12" width="15" height="1" fill="#505050"/><rect x="659" y="5" width="1" height="15" fill="#505050"/><rect x="693" y="6" width="1" height="13" fill="#505050"/><rect x="716" y="12" width="13" height="1" fill="#505050"/></g>
<path d="M744 19 L756.5 6.5" stroke="#505050" stroke-width="1.1"/>
<path d="M769.8 13.3 L783 4 M774.6 18.6 L784 9.8 M771.5 15.8 L773.5 10.8 M775 14.8 L777 9.4 M778.5 13.2 L780.5 7.4 M781.5 10.5 L783 5.5" stroke="#484848" stroke-width="1.1" fill="none"/>
<text x="780.6" y="21" font-size="6.6" fill="#404040" text-anchor="start" font-weight="bold">E</text>
<g shape-rendering="crispEdges">
<rect x="799" y="5" width="1" height="1" fill="#505050"/>
<rect x="801" y="5" width="1" height="1" fill="#505050"/>
<rect x="803" y="5" width="1" height="1" fill="#505050"/>
<rect x="805" y="5" width="1" height="1" fill="#505050"/>
<rect x="807" y="5" width="1" height="1" fill="#505050"/>
<rect x="809" y="5" width="1" height="1" fill="#505050"/>
<rect x="811" y="5" width="1" height="1" fill="#505050"/>
<rect x="799" y="8" width="1" height="1" fill="#505050"/>
<rect x="801" y="8" width="1" height="1" fill="#505050"/>
<rect x="803" y="8" width="1" height="1" fill="#505050"/>
<rect x="805" y="8" width="1" height="1" fill="#505050"/>
<rect x="807" y="8" width="1" height="1" fill="#505050"/>
<rect x="809" y="8" width="1" height="1" fill="#505050"/>
<rect x="811" y="8" width="1" height="1" fill="#505050"/>
<rect x="799" y="12" width="1" height="1" fill="#505050"/>
<rect x="801" y="12" width="1" height="1" fill="#505050"/>
<rect x="803" y="12" width="1" height="1" fill="#505050"/>
<rect x="805" y="12" width="1" height="1" fill="#505050"/>
<rect x="807" y="12" width="1" height="1" fill="#505050"/>
<rect x="809" y="12" width="1" height="1" fill="#505050"/>
<rect x="811" y="12" width="1" height="1" fill="#505050"/>
<rect x="799" y="16" width="1" height="1" fill="#505050"/>
<rect x="801" y="16" width="1" height="1" fill="#505050"/>
<rect x="803" y="16" width="1" height="1" fill="#505050"/>
<rect x="805" y="16" width="1" height="1" fill="#505050"/>
<rect x="807" y="16" width="1" height="1" fill="#505050"/>
</g>
<text x="808.6" y="21" font-size="6.6" fill="#404040" text-anchor="start" font-weight="bold">F</text>
<text x="829.6" y="17" font-size="12" fill="#505050" text-anchor="start" stroke="#505050" stroke-width="0.15">A</text>
<g shape-rendering="crispEdges">
<rect x="856" y="6" width="1" height="1" fill="#505050"/>
<rect x="856" y="18" width="1" height="1" fill="#505050"/>
<rect x="858" y="6" width="1" height="1" fill="#505050"/>
<rect x="858" y="18" width="1" height="1" fill="#505050"/>
<rect x="860" y="6" width="1" height="1" fill="#505050"/>
<rect x="860" y="18" width="1" height="1" fill="#505050"/>
<rect x="862" y="6" width="1" height="1" fill="#505050"/>
<rect x="862" y="18" width="1" height="1" fill="#505050"/>
<rect x="864" y="6" width="1" height="1" fill="#505050"/>
<rect x="864" y="18" width="1" height="1" fill="#505050"/>
<rect x="866" y="6" width="1" height="1" fill="#505050"/>
<rect x="866" y="18" width="1" height="1" fill="#505050"/>
<rect x="856" y="6" width="1" height="1" fill="#505050"/>
<rect x="867" y="6" width="1" height="1" fill="#505050"/>
<rect x="856" y="8" width="1" height="1" fill="#505050"/>
<rect x="867" y="8" width="1" height="1" fill="#505050"/>
<rect x="856" y="10" width="1" height="1" fill="#505050"/>
<rect x="867" y="10" width="1" height="1" fill="#505050"/>
<rect x="856" y="12" width="1" height="1" fill="#505050"/>
<rect x="867" y="12" width="1" height="1" fill="#505050"/>
<rect x="856" y="14" width="1" height="1" fill="#505050"/>
<rect x="867" y="14" width="1" height="1" fill="#505050"/>
<rect x="856" y="16" width="1" height="1" fill="#505050"/>
<rect x="867" y="16" width="1" height="1" fill="#505050"/>
<rect x="856" y="18" width="1" height="1" fill="#505050"/>
<rect x="867" y="18" width="1" height="1" fill="#505050"/>
<rect x="858" y="9" width="8" height="2" fill="#505050"/>
<rect x="861" y="9" width="2" height="8" fill="#505050"/>
<rect x="856" y="5" width="2" height="1" fill="#303030"/>
</g>
<path d="M887 6.5 L890.5 9 L887 11.5 L883.5 9 Z M894 13 L897.5 15.5 L894 18 L890.5 15.5 Z" fill="#505050"/>
<path d="M886 13.5 L888.5 16.5 L893 10.5" stroke="#505050" stroke-width="1.3" fill="none"/>
<text x="931" y="16" font-size="9.95" fill="#3c3c3c" text-anchor="start" textLength="12.8" lengthAdjust="spacingAndGlyphs">M1</text>
<text x="958.5" y="16" font-size="9.95" fill="#3c3c3c" text-anchor="start" textLength="12.8" lengthAdjust="spacingAndGlyphs">M5</text>
<text x="984.5" y="16" font-size="9.95" fill="#3c3c3c" text-anchor="start" textLength="17.8" lengthAdjust="spacingAndGlyphs">M15</text>
<text x="1012.5" y="16" font-size="9.95" fill="#3c3c3c" text-anchor="start" textLength="17.8" lengthAdjust="spacingAndGlyphs">M30</text>
<text x="1043.5" y="16" font-size="9.95" fill="#3c3c3c" text-anchor="start" textLength="11.8" lengthAdjust="spacingAndGlyphs">H1</text>
<text x="1070" y="16" font-size="9.95" fill="#3c3c3c" text-anchor="start" textLength="12.6" lengthAdjust="spacingAndGlyphs">H4</text>
<text x="1099" y="16" font-size="9.95" fill="#3c3c3c" text-anchor="start" textLength="11.6" lengthAdjust="spacingAndGlyphs">D1</text>
<text x="1127" y="16" font-size="9.95" fill="#3c3c3c" text-anchor="start" textLength="14.2" lengthAdjust="spacingAndGlyphs">W1</text>
<text x="1153" y="16" font-size="9.95" fill="#3c3c3c" text-anchor="start" textLength="15.2" lengthAdjust="spacingAndGlyphs">MN</text>
<text x="33.5" y="15.2" font-size="12.2" fill="#000" text-anchor="start" stroke="#000" stroke-width="0.15">新订单</text>
<text x="186" y="15.2" font-size="12.2" fill="#000" text-anchor="start" stroke="#000" stroke-width="0.15">自动交易</text>
<circle cx="1646.5" cy="9.3" r="3.9" fill="#fff" fill-opacity="0.5" stroke="#2050d0" stroke-width="1.3"/>
<path d="M1643.8 12.2 L1639.8 16.6" stroke="#2a5ad0" stroke-width="2.6" stroke-linecap="round"/>
<path d="M1664 14 Q1664 9 1670 9 Q1676 9 1676 14 Q1676 18 1670 18 L1668 18 L1666.5 20.5 L1666.5 17.5 Q1664 16.5 1664 14 Z" fill="#dcdce6" stroke="#a8a8b0" stroke-width="0.8"/>
<circle cx="1677.5" cy="9.5" r="8" fill="url(#gbadge)"/>
<text x="1677.5" y="14" font-size="11" font-weight="bold" fill="#fff" text-anchor="middle" font-family="Liberation Serif, serif">1</text>
</svg>
</body></html>
